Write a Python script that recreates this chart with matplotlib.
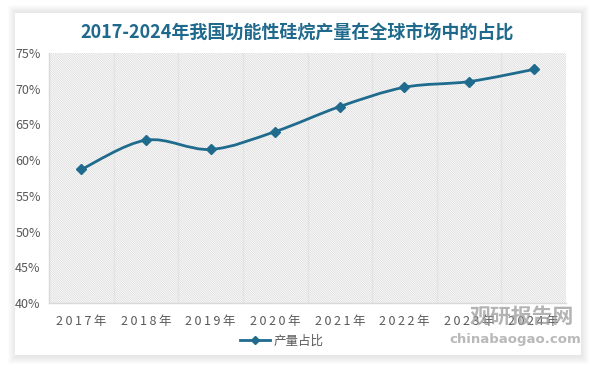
import matplotlib
matplotlib.use("Agg")
import matplotlib.pyplot as plt
from matplotlib.path import Path
from matplotlib.patches import PathPatch, Rectangle
from matplotlib.lines import Line2D
from matplotlib.ticker import FuncFormatter, MultipleLocator

plt.rcParams["font.family"] = ["Noto Sans CJK SC", "DejaVu Sans"]
plt.rcParams["hatch.color"] = "#d6d6d6"
plt.rcParams["hatch.linewidth"] = 0.5

years = ["2017年", "2018年", "2019年", "2020年", "2021年", "2022年", "2023年", "2024年"]
share = [58.7, 62.8, 61.5, 64.0, 67.5, 70.2, 71.0, 72.7]
series_name = "产量占比"
title = "2017-2024年我国功能性硅烷产量在全球市场中的占比"

LINE = "#1f6b8e"
TEXT = "#595959"


def smooth_path(xs, ys):
    # Excel-style smoothed line: Catmull-Rom segments as cubic Bezier curves
    pts = list(zip(xs, ys))
    n = len(pts)
    verts = [pts[0]]
    codes = [Path.MOVETO]
    for i in range(n - 1):
        p0 = pts[i - 1] if i > 0 else pts[i]
        p1 = pts[i]
        p2 = pts[i + 1]
        p3 = pts[i + 2] if i + 2 < n else pts[i + 1]
        c1 = (p1[0] + (p2[0] - p0[0]) / 6, p1[1] + (p2[1] - p0[1]) / 6)
        c2 = (p2[0] - (p3[0] - p1[0]) / 6, p2[1] - (p3[1] - p1[1]) / 6)
        verts += [c1, c2, p2]
        codes += [Path.CURVE4] * 3
    return Path(verts, codes)


fig = plt.figure(figsize=(5.94, 3.66), dpi=100)
fig.patch.set_facecolor("white")

# card with a soft shadow
for k in range(8):
    pad = 8 - k
    fig.patches.append(Rectangle(((15 - pad + 1) / 594, 1 - (356 + pad) / 366),
                                 (567 + 2 * pad - 2) / 594, (343 + 2 * pad) / 366,
                                 transform=fig.transFigure, facecolor="#000000",
                                 alpha=0.012, edgecolor="none", zorder=0))
fig.patches.append(Rectangle((15 / 594, 1 - 355 / 366), 566 / 594, 342 / 366,
                             transform=fig.transFigure, facecolor="white",
                             edgecolor="none", zorder=1))

ax = fig.add_axes([49 / 594, 1 - 303 / 366, 517 / 594, 250 / 366])
ax.set_zorder(2)
ax.patch.set_facecolor("white")
ax.add_patch(Rectangle((0, 0), 1, 1, transform=ax.transAxes, facecolor="white",
                       edgecolor="#d6d6d6", linewidth=0, hatch="\\" * 15, zorder=0))

x = list(range(len(years)))
ax.set_xlim(-0.5, len(years) - 0.5)
ax.set_ylim(40, 75)

for b in range(1, len(years)):
    ax.axvline(b - 0.5, color="#e3e3e3", linewidth=1.0, zorder=1)

ax.add_patch(PathPatch(smooth_path(x, share), facecolor="none", edgecolor=LINE,
                       linewidth=2.0, zorder=3, capstyle="round"))
ax.plot(x, share, linestyle="none", marker="D", markersize=5.5, color=LINE, zorder=4)

ax.yaxis.set_major_locator(MultipleLocator(5))
ax.yaxis.set_major_formatter(FuncFormatter(lambda v, p: f"{v:.0f}%"))
ax.set_xticks(x)
ax.set_xticklabels(["\u2009".join(y) for y in years], family=["Noto Sans CJK SC", "DejaVu Sans"])
ax.tick_params(axis="x", length=0, pad=9, labelsize=9, labelcolor=TEXT)
ax.tick_params(axis="y", length=0, pad=6, labelsize=9, labelcolor=TEXT)

for s in ["top", "right"]:
    ax.spines[s].set_visible(False)
ax.spines["left"].set_color("#d9d9d9")
ax.spines["bottom"].set_color("#d9d9d9")
ax.spines["left"].set_linewidth(1.0)
ax.spines["bottom"].set_linewidth(1.0)

fig.text(0.5, 1 - 33 / 366, title, ha="center", va="center", fontsize=13,
         fontweight="bold", color="#1f6a8c", zorder=5)

# legend below the axis
handle = Line2D([], [], color=LINE, linewidth=2.0, marker="D", markersize=4)
fig.legend([handle], [series_name], loc="center", bbox_to_anchor=(282 / 594, 1 - 341 / 366),
           frameon=False, fontsize=9, labelcolor=TEXT, handlelength=2.4,
           handletextpad=0.3)

# watermark (sits over the last tick labels, as in the source image)
fig.text(522 / 594, 1 - 316 / 366, "观研报告网", ha="center", va="center", fontsize=15,
         fontweight="bold", color="#9a9a9a", alpha=0.75, zorder=6)
fig.text(515 / 594, 1 - 339 / 366, "chinabaogao.com", ha="center", va="center",
         fontsize=9.5, fontweight="bold", color="#a8a8a8", alpha=0.8, zorder=6,
         family="DejaVu Sans")

fig.savefig("out.png", dpi=100)
